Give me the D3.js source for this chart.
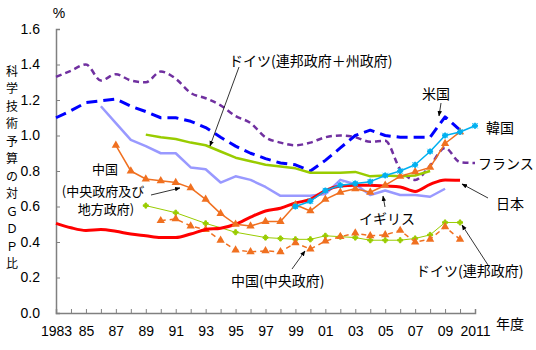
<!DOCTYPE html>
<html>
<head>
<meta charset="utf-8">
<script src="https://cdn.jsdelivr.net/npm/d3@7"></script>
<style>
body { margin: 0; background: #fff; }
text { font-family: "Liberation Sans", Arial, sans-serif; }
.jp { font-family: "Noto Sans CJK JP", sans-serif; }
</style>
</head>
<body>
<script>
var w = 536, h = 350;

// data (ratio of S&T budget to GDP, %)
var years = d3.range(1983, 2012);
var tickLabels = ["1983", "85", "87", "89", "91", "93", "95", "97", "99", "01", "03", "05", "07", "09", "2011"];
var yTicks = [0, 0.2, 0.4, 0.6, 0.8, 1.0, 1.2, 1.4, 1.6];

var franceYears = d3.range(1983, 2012);
var france = [1.33, 1.365, 1.40, 1.31, 1.345, 1.31, 1.30, 1.36, 1.32, 1.24, 1.21, 1.17, 1.11, 1.07, 0.99, 0.96, 0.945, 0.96, 0.99, 1.0, 0.99, 0.965, 0.97, 0.81, 0.75, 0.83, 0.93, 0.85, 0.845];

var usaYears = d3.range(1983, 2011);
var usa = [1.10, 1.14, 1.185, 1.195, 1.205, 1.165, 1.135, 1.10, 1.10, 1.08, 1.045, 0.99, 0.94, 0.90, 0.87, 0.845, 0.835, 0.80, 0.86, 0.93, 1.00, 1.03, 1.00, 0.99, 0.99, 0.99, 1.105, 1.03];

var germanyYears = d3.range(1989, 2009);
var germany = [1.005, 0.99, 0.98, 0.96, 0.945, 0.91, 0.875, 0.855, 0.835, 0.825, 0.815, 0.79, 0.79, 0.79, 0.795, 0.77, 0.775, 0.77, 0.775, 0.80];

var ukYears = d3.range(1986, 2010);
var uk = [1.165, 1.07, 0.975, 0.94, 0.90, 0.90, 0.82, 0.81, 0.735, 0.77, 0.75, 0.71, 0.66, 0.66, 0.66, 0.67, 0.75, 0.725, 0.665, 0.69, 0.665, 0.665, 0.655, 0.70];

var japanYears = d3.range(1983, 2011);
var japan = [0.505, 0.48, 0.465, 0.47, 0.46, 0.445, 0.435, 0.425, 0.425, 0.445, 0.47, 0.478, 0.50, 0.54, 0.575, 0.59, 0.62, 0.64, 0.69, 0.715, 0.72, 0.72, 0.715, 0.71, 0.685, 0.725, 0.75, 0.748];

var koreaYears = d3.range(1999, 2012);
var korea = [0.60, 0.63, 0.69, 0.72, 0.73, 0.74, 0.775, 0.80, 0.835, 0.91, 1.00, 1.02, 1.055];

var chinaAllYears = d3.range(1987, 2011);
var chinaAll = [0.945, 0.80, 0.755, 0.745, 0.735, 0.705, 0.64, 0.56, 0.50, 0.49, 0.515, 0.515, 0.61, 0.575, 0.64, 0.68, 0.70, 0.68, 0.72, 0.77, 0.795, 0.82, 0.955, 1.02];

var chinaCentralYears = d3.range(1990, 2011);
var chinaCentral = [0.52, 0.53, 0.49, 0.47, 0.41, 0.355, 0.345, 0.35, 0.345, 0.395, 0.36, 0.405, 0.43, 0.45, 0.435, 0.44, 0.465, 0.40, 0.415, 0.485, 0.415];

var germanyFedYears = [1989, 1991, 1993, 1995, 1997, 1998, 1999, 2000, 2001, 2002, 2003, 2004, 2005, 2006, 2007, 2008, 2009, 2010];
var germanyFed = [0.605, 0.565, 0.505, 0.455, 0.425, 0.42, 0.415, 0.415, 0.435, 0.43, 0.425, 0.41, 0.41, 0.41, 0.42, 0.44, 0.51, 0.51];

var svg = d3.select("body").append("svg")
    .attr("width", w)
    .attr("height", h);

var x = d3.scaleLinear().domain([1983, 2011]).range([56, 475]);
var y = d3.scaleLinear().domain([0, 1.6]).range([313, 29]);

// axes
var xAxis = d3.axisBottom(x)
    .tickValues(years)
    .tickSize(-4)
    .tickFormat(function (d) {
        var i = (d - 1983) / 2;
        return (d - 1983) % 2 === 0 ? tickLabels[i] : "";
    });
var gx = svg.append("g")
    .attr("transform", "translate(0," + y(0) + ")")
    .call(xAxis);
gx.select(".domain").attr("stroke", "#808080").attr("stroke-width", 1.5);
gx.selectAll(".tick line").attr("stroke", "#808080");
gx.selectAll(".tick text").attr("y", 13).attr("font-size", 14).attr("fill", "#000");

var yAxis = d3.axisLeft(y)
    .tickValues(yTicks)
    .tickSize(-4)
    .tickFormat(d3.format(".1f"));
var gy = svg.append("g")
    .attr("transform", "translate(" + x(1983) + ",0)")
    .call(yAxis);
gy.select(".domain").attr("stroke", "#808080").attr("stroke-width", 1.5);
gy.selectAll(".tick line").attr("stroke", "#808080");
gy.selectAll(".tick text").attr("x", -16).attr("font-size", 14).attr("fill", "#000");

function pts(ys, vs) {
    return ys.map(function (yr, i) { return [yr, vs[i]]; });
}

function drawLine(ys, vs, color, width, dash, curve) {
    var line = d3.line()
        .x(function (d) { return x(d[0]); })
        .y(function (d) { return y(d[1]); })
        .curve(curve || d3.curveLinear);
    svg.append("path")
        .datum(pts(ys, vs))
        .attr("d", line)
        .attr("fill", "none")
        .attr("stroke", color)
        .attr("stroke-width", width)
        .attr("stroke-linejoin", "round")
        .attr("stroke-dasharray", dash || null);
}

function drawMarks(ys, vs, color, type, size) {
    svg.append("g").selectAll("path")
        .data(pts(ys, vs))
        .enter()
        .append("path")
        .attr("transform", function (d) { return "translate(" + x(d[0]) + "," + y(d[1]) + ")"; })
        .attr("d", d3.symbol().type(type).size(size))
        .attr("fill", type === d3.symbolTimes ? "none" : color)
        .attr("stroke", color)
        .attr("stroke-width", type === d3.symbolTriangle ? 0 : 1);
}

drawLine(franceYears, france, "#7030a0", 2.5, "6,4", d3.curveMonotoneX);
drawLine(usaYears, usa, "#0000ff", 3, "11,6");
drawLine(germanyYears, germany, "#99cc00", 2.5);
drawLine(ukYears, uk, "#9999ff", 2.5);
drawLine(germanyFedYears, germanyFed, "#99cc00", 1);
drawMarks(germanyFedYears, germanyFed, "#99cc00", d3.symbolCross, 14);
drawLine(chinaCentralYears, chinaCentral, "#f07020", 1.5, "5,4");
drawMarks(chinaCentralYears, chinaCentral, "#f07020", d3.symbolTriangle, 30);
drawLine(japanYears, japan, "#ff0000", 3, null, d3.curveMonotoneX);
drawLine(chinaAllYears, chinaAll, "#f07020", 1.5);
drawMarks(chinaAllYears, chinaAll, "#f07020", d3.symbolTriangle, 30);
drawLine(koreaYears, korea, "#00b0f0", 1.5);
drawMarks(koreaYears, korea, "#00b0f0", d3.symbolTimes, 20);
drawMarks(koreaYears, korea, "#00b0f0", d3.symbolCross, 14);

// arrow head
svg.append("defs").append("marker")
    .attr("id", "arr")
    .attr("viewBox", "0 0 10 10")
    .attr("refX", 9).attr("refY", 5)
    .attr("markerWidth", 7).attr("markerHeight", 7)
    .attr("orient", "auto")
    .append("path")
    .attr("d", "M0,1L10,5L0,9z")
    .attr("fill", "#000");

function arrow(x1, y1, x2, y2) {
    svg.append("line")
        .attr("x1", x1).attr("y1", y1).attr("x2", x2).attr("y2", y2)
        .attr("stroke", "#000").attr("stroke-width", 0.8)
        .attr("marker-end", "url(#arr)");
}

function label(t, lx, ly, anchor, size) {
    svg.append("text")
        .attr("class", "jp")
        .attr("x", lx).attr("y", ly)
        .attr("font-size", size || 14)
        .attr("text-anchor", anchor || "start")
        .attr("dominant-baseline", "central")
        .text(t);
}

label("ドイツ(連邦政府＋州政府)", 229, 60);
arrow(239, 67, 210, 146);
label("米国", 422, 93);
arrow(441, 103, 439, 116);
label("韓国", 486, 127);
label("フランス", 478, 163);
label("日本", 496, 203);
arrow(488, 198, 462, 184);
label("イギリス", 359, 218);
arrow(385, 207, 383, 196);
label("ドイツ(連邦政府)", 416, 270);
arrow(488, 265, 462, 225);
label("中国(中央政府)", 231, 280);
arrow(292, 269, 305, 251);
label("中国", 105, 168, "middle", 13);
label("(中央政府及び", 103, 190, "middle", 13);
label("地方政府)", 106, 208, "middle", 13);
arrow(151, 195, 180, 188);

// axis titles
svg.append("text")
    .attr("x", 59).attr("y", 18)
    .attr("font-size", 14)
    .attr("text-anchor", "middle")
    .text("%");
svg.append("text")
    .attr("class", "jp")
    .attr("x", 510).attr("y", 329)
    .attr("font-size", 14)
    .attr("text-anchor", "middle")
    .text("年度");

var yTitle = "科学技術予算の対ＧＤＰ比".split("");
svg.append("g").selectAll("text")
    .data(yTitle)
    .enter()
    .append("text")
    .attr("class", "jp")
    .attr("x", 12)
    .attr("y", function (d, i) { return 70 + i * 17.5; })
    .attr("font-size", 12)
    .attr("text-anchor", "middle")
    .attr("dominant-baseline", "central")
    .text(function (d) { return d; });
</script>
</body>
</html>
